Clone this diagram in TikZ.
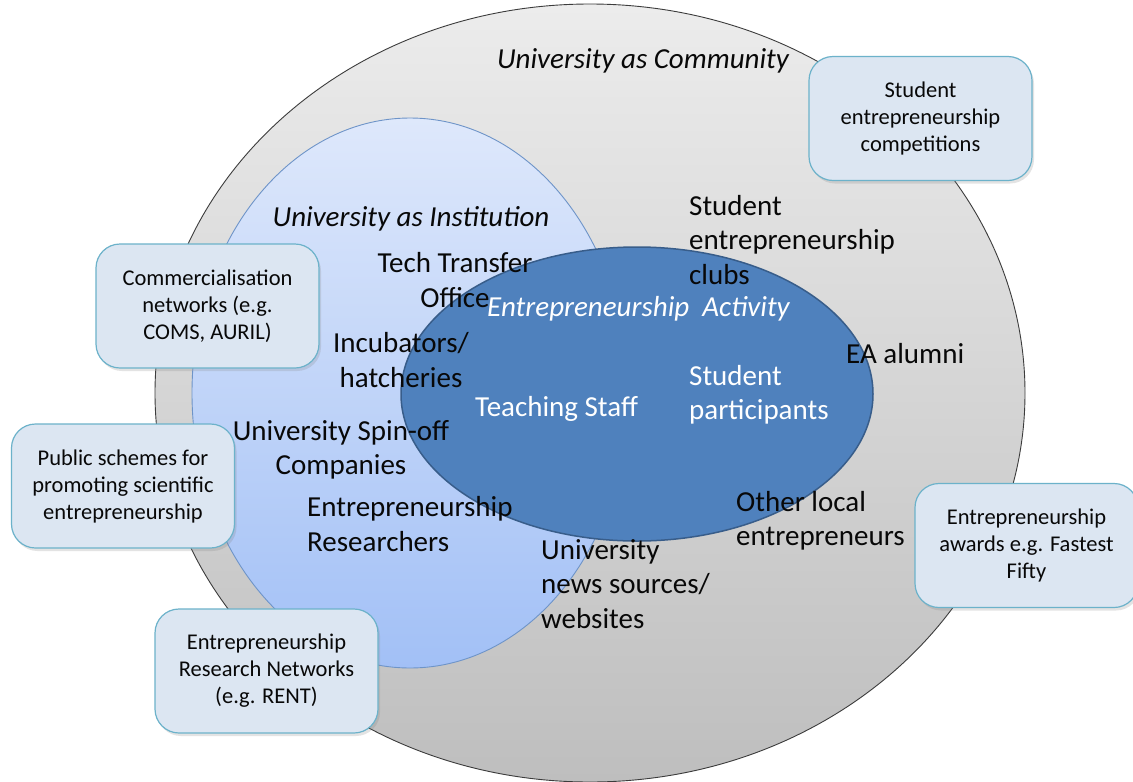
\documentclass[tikz,border=0pt]{standalone}
\usepackage{fontspec}
\setmainfont{Carlito}
\usetikzlibrary{shapes.geometric,shadows}

\definecolor{outerTop}{RGB}{236,236,236}
\definecolor{outerBot}{RGB}{190,190,190}
\definecolor{outerLine}{RGB}{60,60,60}
\definecolor{instTop}{RGB}{222,232,251}
\definecolor{instBot}{RGB}{162,192,246}
\definecolor{instLine}{RGB}{110,148,200}
\definecolor{actFill}{RGB}{79,129,189}
\definecolor{actLine}{RGB}{56,93,138}
\definecolor{boxFill}{RGB}{220,230,242}
\definecolor{boxLine}{RGB}{108,178,202}
\definecolor{ink}{RGB}{8,8,8}

\tikzset{
  zone/.style={ellipse, inner sep=0pt},
  biglabel/.style={inner sep=0pt, text=ink, font=\fontsize{29}{34.5}\selectfont},
  inlabel/.style={inner sep=0pt, text=white, font=\fontsize{29}{34.5}\selectfont},
  infobox/.style={rectangle, rounded corners=24pt, draw=boxLine, line width=1.2pt,
    fill=boxFill, minimum width=223pt, minimum height=124pt, align=center,
    text=ink, font=\fontsize{22.5}{27}\selectfont,
    drop shadow={opacity=0.22, shadow xshift=2pt, shadow yshift=-3pt}}
}

\begin{document}
\begin{tikzpicture}[x=1pt,y=-1pt]
\useasboundingbox (0,0) rectangle (1133,782);
\fill[white] (0,0) rectangle (1133,782);

% nested spheres of the university
\node[zone, minimum width=870pt, minimum height=778pt,
      top color=outerTop, bottom color=outerBot, draw=outerLine, line width=0.9pt]
      (community) at (590,393) {};
\node[zone, minimum width=436pt, minimum height=550pt,
      top color=instTop, bottom color=instBot, draw=instLine, line width=0.9pt]
      (institution) at (410,393) {};
\node[zone, minimum width=472pt, minimum height=294pt,
      fill=actFill, draw=actLine, line width=1.5pt]
      (activity) at (637,394) {};

% zone titles
\node[biglabel, font=\fontsize{29}{34.5}\selectfont\itshape] (tCommunity) at (643,61) {University as Community};
\node[biglabel, font=\fontsize{29}{34.5}\selectfont\itshape] (tInstitution) at (411,219) {University as Institution};
\node[inlabel, font=\fontsize{29}{34.5}\selectfont\itshape, anchor=west] (tActivity) at (487,309) {Entrepreneurship\ \ Activity};

% actors inside the institution
\node[biglabel, align=center] (tto) at (455,280) {Tech Transfer\\Office};
\node[biglabel, align=center] (incub) at (401,360) {Incubators/\\hatcheries};
\node[biglabel, align=center] (spinoff) at (341,450) {University Spin-off\\Companies};
\node[biglabel, align=left, anchor=west] (researchers) at (307,524) {Entrepreneurship\\Researchers};

% actors in the community
\node[biglabel, align=left, anchor=west] (news) at (541,584) {University\\news sources/\\websites};
\node[biglabel, align=left, anchor=west] (clubs) at (689,240) {Student\\entrepreneurship\\clubs};
\node[biglabel, anchor=west] (alumni) at (846,354) {EA alumni};
\node[biglabel, align=left, anchor=west] (locals) at (736,521) {Other local\\entrepreneurs};

% actors in the activity
\node[inlabel, anchor=west] (staff) at (475,409) {Teaching Staff};
\node[inlabel, align=left, anchor=west] (students) at (689,395) {Student\\participants};

% external bodies
\node[infobox] (competitions) at (920.5,118.5) {Student\\entrepreneurship\\competitions};
\node[infobox] (commercial) at (207.5,306) {Commercialisation\\networks (e.g.\\COMS, AURIL)};
\node[infobox] (schemes) at (123,486) {Public schemes for\\promoting scientific\\entrepreneurship};
\node[infobox] (rent) at (266.5,671) {Entrepreneurship\\Research Networks\\(e.g. RENT)};
\node[infobox] (awards) at (1026.5,545.5) {Entrepreneurship\\awards e.g. Fastest\\Fifty};
\end{tikzpicture}
\end{document}
